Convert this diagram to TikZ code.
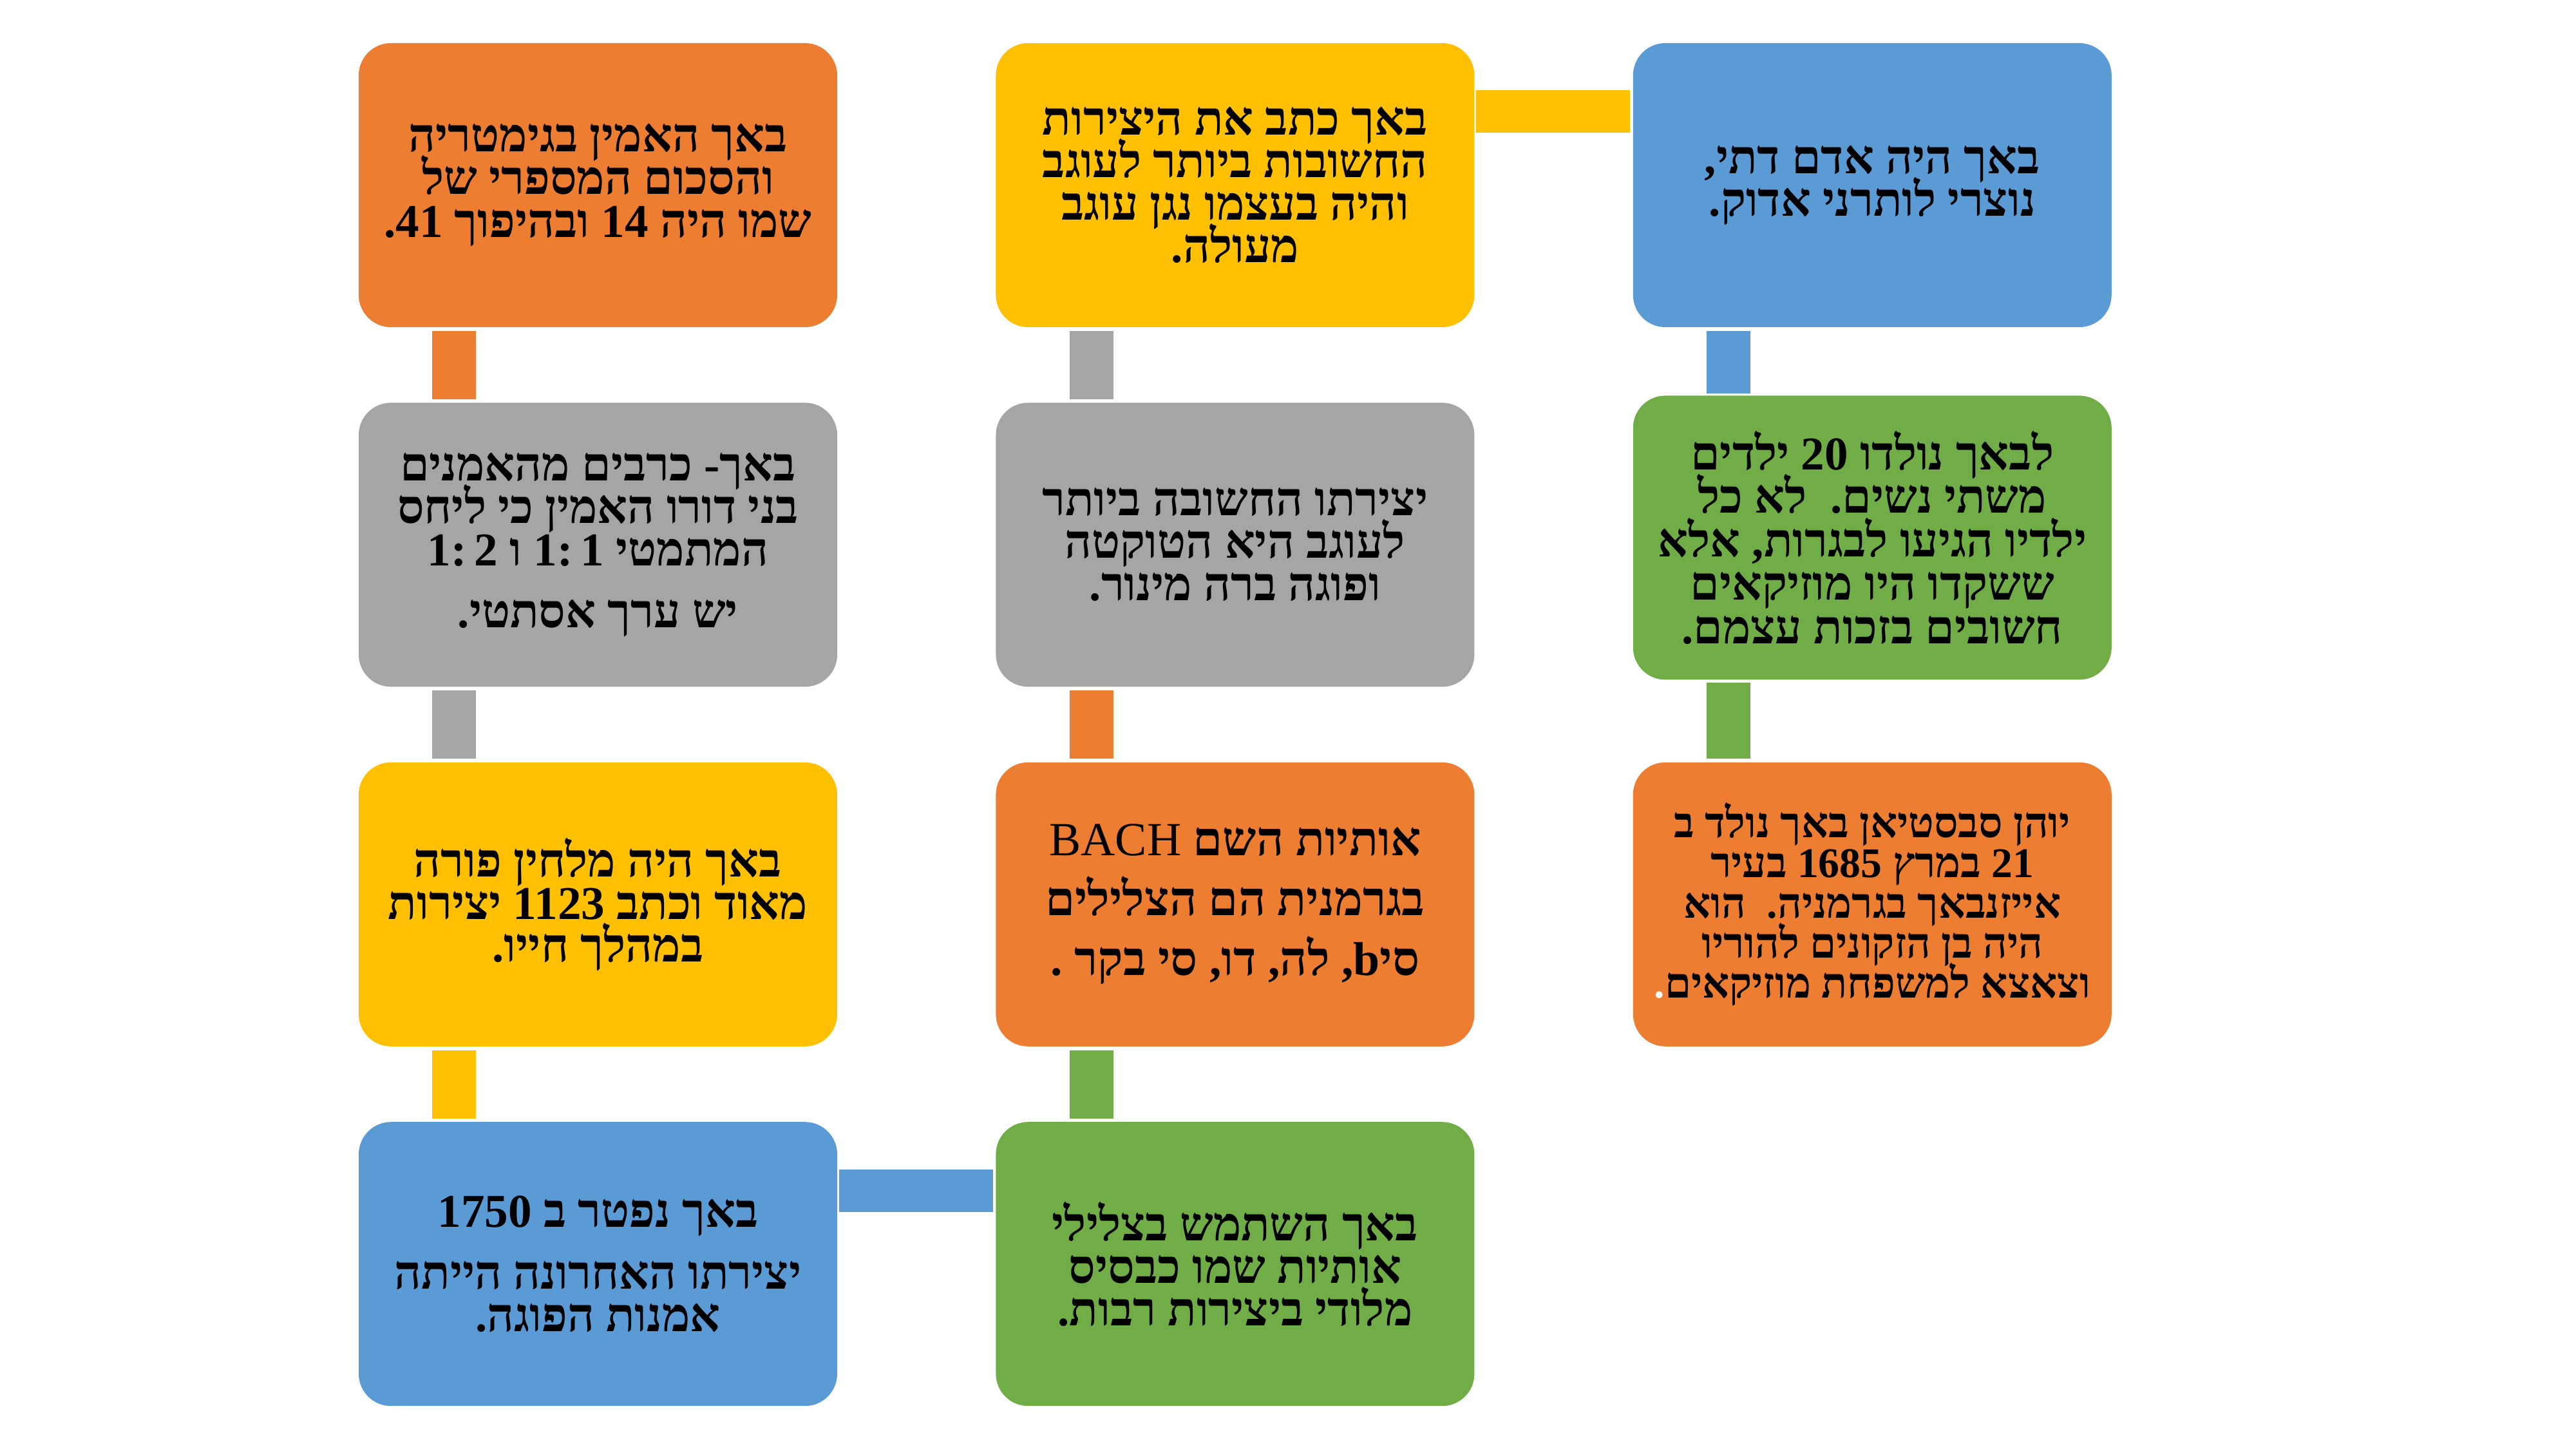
\documentclass[tikz,border=0pt]{standalone}
\usepackage{fontspec}
\setmainfont{Liberation Serif}
\newfontfamily\hebfont[Script=Hebrew]{Liberation Serif}
\usetikzlibrary{positioning}
\TeXXeTstate=1

\definecolor{cOrange}{HTML}{ED7D31}
\definecolor{cYellow}{HTML}{FFC000}
\definecolor{cBlue}{HTML}{5B9BD5}
\definecolor{cGray}{HTML}{A5A5A5}
\definecolor{cGreen}{HTML}{70AD47}

\newcommand{\hb}[1]{\beginR#1\endR}
\newcommand{\hebsize}[2]{\hebfont\bfseries\fontsize{#1}{#2}\selectfont\lineskiplimit=-30pt}

\begin{document}
\begin{tikzpicture}[
    box/.style={rectangle, rounded corners=0.5cm, minimum width=7.43cm, minimum height=4.41cm, inner sep=0pt, align=center, text=black, font=\hebsize{20.8}{18.8}},
    onode/.style={box, fill=cOrange},
    ynode/.style={box, fill=cYellow},
    bnode/.style={box, fill=cBlue},
    gnode/.style={box, fill=cGray},
    grnode/.style={box, fill=cGreen},
    link/.style={line width=0.68cm},
    hlink/.style={line width=0.66cm}
]
\useasboundingbox (0,0) rectangle (40,-22.5);

\node [onode] (gimatria) at (9.285,-2.875) {\hb{באך האמין בגימטריה}\\ \hb{והסכום המספרי של}\\ \hb{שמו היה \beginL14\endL{} ובהיפוך \beginL41\endL.}};
\node [gnode, below=1.16cm of gimatria] (ratio) {\hb{באך- כרבים מהאמנים}\\ \hb{בני דורו האמין כי ליחס}\\ \hb{המתמטי \beginL{\rmfamily 1:\,1}\endL{} ו \beginL{\rmfamily 1:\,2}\endL{}}\\[0.3cm] \hb{יש ערך אסתטי.}};
\node [ynode, below=1.16cm of ratio] (prolific) {\hb{באך היה מלחין פורה}\\ \hb{מאוד וכתב \beginL1123\endL{} יצירות}\\ \hb{במהלך חייו.}};
\node [bnode, below=1.16cm of prolific] (death) {\hb{באך נפטר ב \beginL1750\endL}\\[0.3cm] \hb{יצירתו האחרונה הייתה}\\ \hb{אמנות הפוגה.}};

\node [ynode, right=2.45cm of gimatria] (organ) {\hb{באך כתב את היצירות}\\ \hb{החשובות ביותר לעוגב}\\ \hb{והיה בעצמו נגן עוגב}\\ \hb{מעולה.}};
\node [gnode, below=1.16cm of organ] (toccata) {\hb{יצירתו החשובה ביותר}\\ \hb{לעוגב היא הטוקטה}\\ \hb{ופוגה ברה מינור.}};
\node [onode, below=1.16cm of toccata, font=\hebsize{21}{26.5}] (letters) {\hb{אותיות השם \beginL{\rmfamily\mdseries BACH}\endL}\\ \hb{בגרמנית הם הצלילים}\\ \hb{סיb, לה, דו, סי בקר .}};
\node [grnode, below=1.16cm of letters] (motif) {\hb{באך השתמש בצלילי}\\ \hb{אותיות שמו כבסיס}\\ \hb{מלודי ביצירות רבות.}};

\node [bnode, right=2.45cm of organ] (faith) {\hb{באך היה אדם דתי,}\\ \hb{נוצרי לותרני אדוק.}};
\node [grnode, below=1.05cm of faith, font=\hebsize{20.8}{19.2}] (children) {\hb{לבאך נולדו \beginL20\endL{} ילדים}\\ \hb{משתי נשים.\ \ לא כל}\\ \hb{ילדיו הגיעו לבגרות, אלא}\\ \hb{ששקדו היו מוזיקאים}\\ \hb{חשובים בזכות עצמם.}};
\node [onode, right=2.45cm of letters, font=\hebsize{18.7}{17.7}] (birth) {\hb{יוהן סבסטיאן באך נולד ב}\\ \hb{\beginL21\endL{} במרץ \beginL1685\endL{} בעיר}\\ \hb{אייזנבאך בגרמניה.\ \ הוא}\\ \hb{היה בן הזקונים להוריו}\\ \hb{וצאצא למשפחת מוזיקאים\beginL{\color{white}.}\endL}};

\draw [link, cOrange] ([shift={(1.49,-0.05)}]gimatria.south west) -- ([shift={(1.49,0.05)}]ratio.north west);
\draw [link, cGray] ([shift={(1.49,-0.05)}]ratio.south west) -- ([shift={(1.49,0.05)}]prolific.north west);
\draw [link, cYellow] ([shift={(1.49,-0.05)}]prolific.south west) -- ([shift={(1.49,0.05)}]death.north west);
\draw [link, cGray] ([shift={(1.49,-0.05)}]organ.south west) -- ([shift={(1.49,0.05)}]toccata.north west);
\draw [link, cOrange] ([shift={(1.49,-0.05)}]toccata.south west) -- ([shift={(1.49,0.05)}]letters.north west);
\draw [link, cGreen] ([shift={(1.49,-0.05)}]letters.south west) -- ([shift={(1.49,0.05)}]motif.north west);
\draw [link, cBlue] ([shift={(1.49,-0.05)}]faith.south west) -- ([shift={(1.49,0.03)}]children.north west);
\draw [link, cGreen] ([shift={(1.49,-0.04)}]children.south west) -- ([shift={(1.49,0.05)}]birth.north west);
\draw [hlink, cYellow] ([shift={(0.02,-1.07)}]organ.north east) -- ([shift={(-0.04,-1.07)}]faith.north west);
\draw [hlink, cBlue] ([shift={(0.02,-1.07)}]death.north east) -- ([shift={(-0.04,-1.07)}]motif.north west);

\end{tikzpicture}
\end{document}
